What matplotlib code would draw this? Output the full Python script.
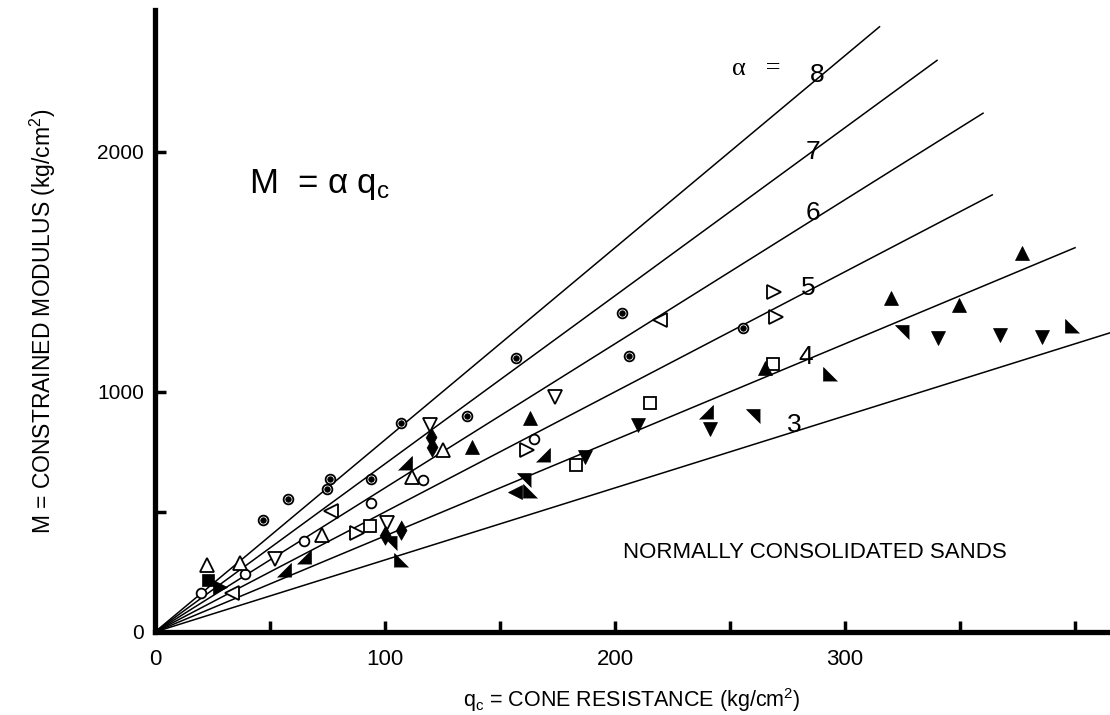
import matplotlib
matplotlib.use("Agg")
import matplotlib.pyplot as plt

plt.rcParams['font.family'] = ['Liberation Sans', 'DejaVu Sans']
plt.rcParams['mathtext.fontset'] = 'custom'
plt.rcParams['mathtext.rm'] = 'Liberation Sans'
plt.rcParams['mathtext.it'] = 'Liberation Sans:italic'

# alpha lines: slope and where each line stops (qc)
alphas = [3, 4, 5, 6, 7, 8]
line_ends = [415, 400, 364, 360, 340, 315]
label_pos = [(278, 862), (283, 1146), (284, 1433), (286, 1746), (286, 2000), (288, 2321)]

# data points (qc, M) by symbol
dot_circ_x = [47, 58, 75, 76, 94, 107, 135.5, 157, 206, 203, 255.5]
dot_circ_y = [467, 553, 595, 637, 637, 870, 900, 1140, 1150, 1328, 1265]
open_circ_x = [20, 39, 65, 94, 116.4, 165]
open_circ_y = [164, 242, 380, 537, 633, 803]
open_up_x = [22.5, 37, 72.5, 111.6, 125.4]
open_up_y = [279, 289, 404, 647, 758]
open_down_x = [52, 100.7, 119.6, 174]
open_down_y = [304, 453, 862, 980]
open_left_x = [33.3, 76.4, 219.6]
open_left_y = [164, 505, 1300]
open_right_x = [88, 161.6, 269, 270]
open_right_y = [412, 758, 1414, 1311]
open_sq_x = [93.5, 183, 215, 268.8]
open_sq_y = [442, 696, 953, 1117]
fill_up_x = [137.7, 163, 265, 320, 349.7, 376.8]
fill_up_y = [772, 890, 1099, 1390, 1362, 1578]
fill_down_x = [187, 210, 241.3, 340.6, 367.4, 385.5]
fill_down_y = [730, 862, 845, 1224, 1237, 1228]
fill_left_x = [156.5]
fill_left_y = [582]
fill_right_x = [28.3]
fill_right_y = [189]
wedge_br_x = [56, 65, 108.7, 168.8, 239.6]
wedge_br_y = [258, 314, 705, 737, 914]
wedge_bl_x = [107, 163, 293.5, 398.6]
wedge_bl_y = [300, 585, 1075, 1272]
wedge_tr_x = [102, 160.4, 260, 324.6]
wedge_tr_y = [370, 633, 900, 1251]
diam_x = [100, 107, 120, 120.5]
diam_y = [404, 425, 812, 770]
fill_sq_x = [23.2]
fill_sq_y = [217]

x_ticks = [0, 50, 100, 150, 200, 250, 300, 350, 400]
x_labels = ['0', '', '100', '', '200', '', '300', '', '']
y_ticks = [0, 500, 1000, 2000]
y_labels = ['0', '', '1000', '2000']

fig = plt.figure(figsize=(11.1, 7.15), dpi=100)
ax = fig.add_axes([0.1396, 0.1161, 0.86, 0.87])
ax.set_xlim(0, 415)
ax.set_ylim(0, 2590)

for a, xe in zip(alphas, line_ends):
    ax.plot([0, xe], [0, a * xe], color='black', lw=1.1, zorder=2)
for a, (lx, ly) in zip(alphas, label_pos):
    ax.text(lx, ly, str(a), fontsize=19, ha='center', va='center')
ax.text(251, 2345, 'α   =', fontsize=19, family='Liberation Serif', ha='left', va='center')

open_kw = dict(color='none', markerfacecolor='white', markeredgecolor='black', markeredgewidth=1.3, zorder=3)
fill_kw = dict(color='none', markerfacecolor='black', markeredgecolor='black', markeredgewidth=0.5, zorder=3)

ax.plot(dot_circ_x, dot_circ_y, marker='o', ms=7, **open_kw)
ax.plot(dot_circ_x, dot_circ_y, marker='o', ms=4, **fill_kw)
ax.plot(open_circ_x, open_circ_y, marker='o', ms=7, **open_kw)
ax.plot(open_up_x, open_up_y, marker='^', ms=10, **open_kw)
ax.plot(open_down_x, open_down_y, marker='v', ms=10, **open_kw)
ax.plot(open_left_x, open_left_y, marker='<', ms=10, **open_kw)
ax.plot(open_right_x, open_right_y, marker='>', ms=10, **open_kw)
ax.plot(open_sq_x, open_sq_y, marker='s', ms=8, **open_kw)
ax.plot(fill_up_x, fill_up_y, marker='^', ms=10, **fill_kw)
ax.plot(fill_down_x, fill_down_y, marker='v', ms=10, **fill_kw)
ax.plot(fill_left_x, fill_left_y, marker='<', ms=10, **fill_kw)
ax.plot(fill_right_x, fill_right_y, marker='>', ms=10, **fill_kw)
ax.plot(wedge_br_x, wedge_br_y, marker=[(1, -1), (1, 1), (-1, -1)], ms=10, **fill_kw)
ax.plot(wedge_bl_x, wedge_bl_y, marker=[(-1, -1), (-1, 1), (1, -1)], ms=10, **fill_kw)
ax.plot(wedge_tr_x, wedge_tr_y, marker=[(1, 1), (-1, 1), (1, -1)], ms=10, **fill_kw)
ax.plot(diam_x, diam_y, marker=[(0, 1.5), (0.85, 0), (0, -1.5), (-0.85, 0)], ms=14, **fill_kw)
ax.plot(fill_sq_x, fill_sq_y, marker='s', ms=9, **fill_kw)

ax.text(41, 1862, 'M  = α q$_{\\rm c}$', fontsize=25, ha='left', va='center')
ax.text(287, 329, 'NORMALLY CONSOLIDATED SANDS', fontsize=16, ha='center', va='center')

for s in ['top', 'right']:
    ax.spines[s].set_visible(False)
for s in ['left', 'bottom']:
    ax.spines[s].set_linewidth(3.8)

ax.set_xticks(x_ticks)
ax.set_xticklabels(x_labels, fontsize=16)
ax.set_yticks(y_ticks)
ax.set_yticklabels(y_labels, fontsize=15)
ax.tick_params(axis='both', direction='in', length=8, width=2.5)
ax.tick_params(axis='x', pad=12)
ax.tick_params(axis='y', pad=8)

ax.set_xlabel('q$_{\\rm c}$ = CONE RESISTANCE (kg/cm$^{2}$)', fontsize=15.5, labelpad=12)
ax.set_ylabel('M = CONSTRAINED MODULUS (kg/cm$^{2}$)', fontsize=16.5, labelpad=28)

fig.savefig('out.png', dpi=100)
